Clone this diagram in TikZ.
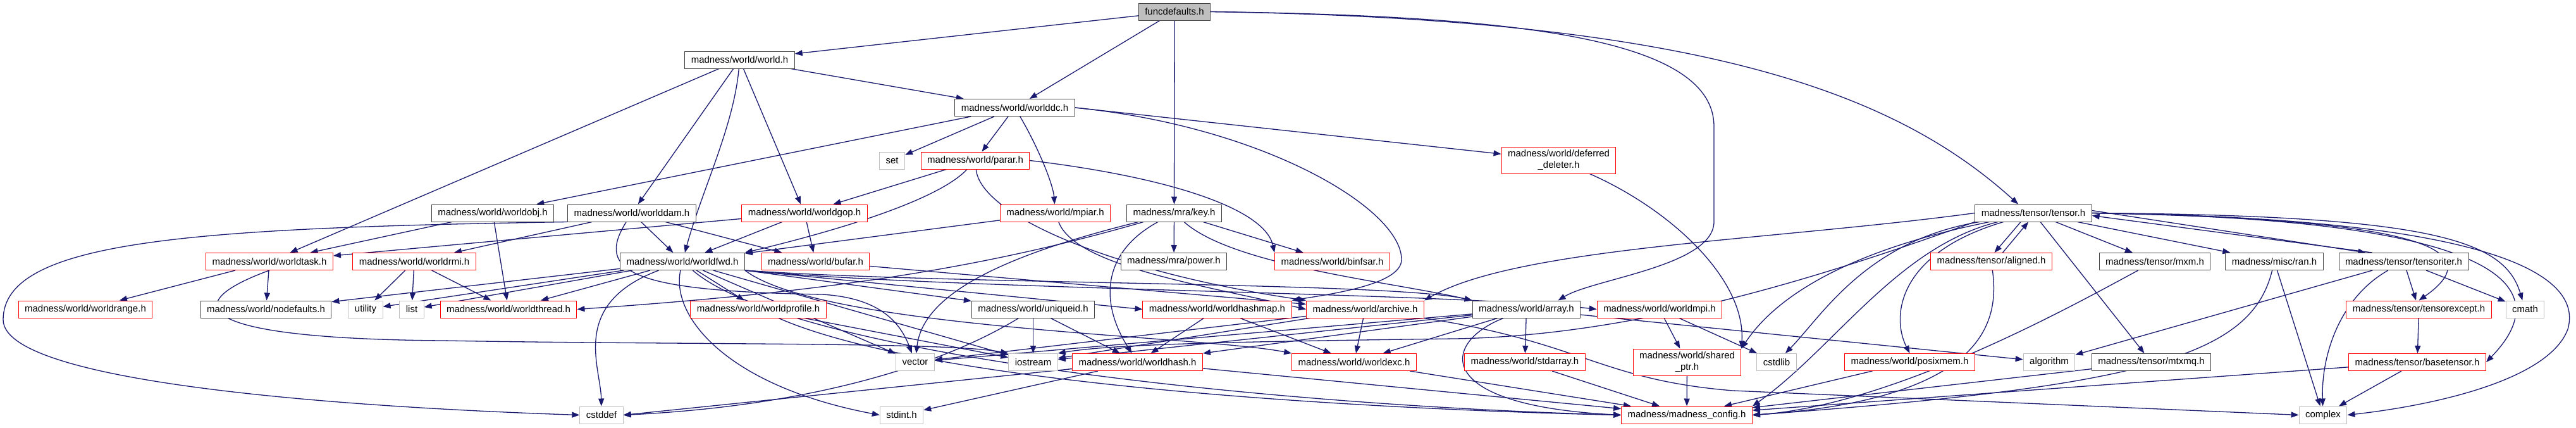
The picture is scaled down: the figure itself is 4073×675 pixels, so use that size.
\documentclass[tikz,border=0pt]{standalone}
\usepackage{fontspec}
\setmainfont{Liberation Sans}
\usetikzlibrary{arrows.meta}
\definecolor{dxedge}{HTML}{191970}
\definecolor{dxgrey}{HTML}{BFBFBF}
\pgfdeclarelayer{edges}
\pgfsetlayers{edges,main}

\begin{document}
\begin{tikzpicture}[x=1pt,y=-1pt,
  hdr/.style={rectangle,draw=black!75,fill=white,line width=1pt,minimum height=27pt,
    inner xsep=10pt,inner ysep=1pt,font=\fontsize{15}{18}\selectfont},
  hdrr/.style={hdr,draw=red},
  sys/.style={hdr,draw=dxgrey},
  two/.style={align=center,minimum height=42pt},
  e/.style={-{Triangle[length=12pt,width=9pt]},dxedge,line width=1.3pt}]
\useasboundingbox (0,0) rectangle (4073,675);
% the file itself and the madness headers
\node[hdr,fill=dxgrey] (fd) at (1857,18.5) {funcdefaults.h};
\node[hdr] (world) at (1169.5,94.5) {madness/world/world.h};
\node[hdr] (wdc) at (1604.5,170) {madness/world/worlddc.h};
\node[hdrr] (parar) at (1542,253.5) {madness/world/parar.h};
\node[hdrr,two] (deldel) at (2464.5,253) {madness/world/deferred\\\_deleter.h};
\node[hdr] (wobj) at (779,336.5) {madness/world/worldobj.h};
\node[hdr] (wdam) at (999,336.5) {madness/world/worlddam.h};
\node[hdrr] (wgop) at (1272,336.5) {madness/world/worldgop.h};
\node[hdrr] (mpiar) at (1668.5,336.5) {madness/world/mpiar.h};
\node[hdr] (key) at (1856.5,336.5) {madness/mra/key.h};
\node[hdr] (tensor) at (3215,336.5) {madness/tensor/tensor.h};
\node[hdrr] (wtask) at (426,413) {madness/world/worldtask.h};
\node[hdrr] (wrmi) at (655,413) {madness/world/worldrmi.h};
\node[hdr] (wfwd) at (1079,413) {madness/world/worldfwd.h};
\node[hdrr] (bufar) at (1289.5,413) {madness/world/bufar.h};
\node[hdr] (power) at (1856,413) {madness/mra/power.h};
\node[hdrr] (binfsar) at (2106.5,413) {madness/world/binfsar.h};
\node[hdrr] (aligned) at (3148.5,413) {madness/tensor/aligned.h};
\node[hdr] (mxm) at (3407,413) {madness/tensor/mxm.h};
\node[hdr] (ran) at (3596,413) {madness/misc/ran.h};
\node[hdr] (titer) at (3800.5,413) {madness/tensor/tensoriter.h};
\node[hdrr] (wrange) at (135,488.5) {madness/world/worldrange.h};
\node[hdr] (nodef) at (420.5,488.5) {madness/world/nodefaults.h};
\node[hdrr] (wthread) at (804,488.5) {madness/world/worldthread.h};
\node[hdrr] (wprof) at (1199,488.5) {madness/world/worldprofile.h};
\node[hdr] (uniq) at (1633.5,488.5) {madness/world/uniqueid.h};
\node[hdrr] (whmap) at (1924.5,488.5) {madness/world/worldhashmap.h};
\node[hdrr] (archive) at (2158.5,488.5) {madness/world/archive.h};
\node[hdr] (array) at (2413.5,488.5) {madness/world/array.h};
\node[hdrr] (wmpi) at (2624,488.5) {madness/world/worldmpi.h};
\node[hdrr] (texcept) at (3824.5,488.5) {madness/tensor/tensorexcept.h};
\node[hdrr] (whash) at (1798.5,572) {madness/world/worldhash.h};
\node[hdrr] (wexc) at (2141,572) {madness/world/worldexc.h};
\node[hdrr] (stdarr) at (2411,572) {madness/world/stdarray.h};
\node[hdrr,two] (shptr) at (2667.5,572) {madness/world/shared\\\_ptr.h};
\node[hdrr] (posix) at (3019.5,572) {madness/world/posixmem.h};
\node[hdr] (mtxmq) at (3401.5,572) {madness/tensor/mtxmq.h};
\node[hdrr] (btensor) at (3822,572) {madness/tensor/basetensor.h};
\node[hdrr] (config) at (2667,655.5) {madness/madness\_config.h};
% system headers
\foreach \n/\x/\y/\t in {setn/1410.5/253.5/set, utility/578/488.5/utility,
    list/651/488.5/list, cmath/3992.5/488.5/cmath, vector/1447/572/vector,
    iostream/1633.5/572/iostream, cstdlib/2809/572/cstdlib, algo/3240/572/algorithm,
    cstddef/951/655.5/cstddef, stdint/1425.5/655.5/stdint.h, complex/3673/655.5/complex}
  \node[sys] (\n) at (\x,\y) {\t};
\begin{pgfonlayer}{edges}
% funcdefaults.h
\draw[e] (fd) -- (world);
\draw[e] (fd) -- (wdc);
\draw[e] (fd) -- (key);
\draw[e] (fd.east) .. controls (2400,25) and (2710,60) .. (2710,200) -- (2710,350)
  .. controls (2710,420) and (2520,440) .. ([xshift=50]array.north);
\draw[e] (fd.east) .. controls (2700,30) and (3000,150) .. ([xshift=-24]tensor.north);
% world.h and worlddc.h
\draw[e] (world) -- (wdc);
\draw[e] (world) -- (wtask);
\draw[e] (world) -- (wdam);
\draw[e] (world) .. controls (1160,200) and (1110,300) .. (wfwd);
\draw[e] (world) -- (wgop);
\draw[e] (wdc) -- (wobj);
\draw[e] (wdc) -- (setn);
\draw[e] (wdc) -- (parar);
\draw[e] (wdc) .. controls (1640,230) and (1665,290) .. (mpiar);
\draw[e] (wdc.east) -- (deldel);
\draw[e] (wdc.east) .. controls (2000,200) and (2216,330) .. (2216,410)
  .. controls (2216,450) and (2100,465) .. (whmap.north east);
% parar.h, deferred_deleter.h
\draw[e] (parar) -- (wgop);
\draw[e] (parar) .. controls (1480,320) and (1300,370) .. (wfwd.north east);
\draw[e] (parar) .. controls (1550,340) and (1760,430) .. (archive.north west);
\draw[e] (parar.east) .. controls (1850,280) and (2000,330) .. (binfsar.north west);
\draw[e] (deldel) .. controls (2640,330) and (2760,440) .. (shptr.north east);
% row of worldobj.h ... key.h
\draw[e] (wobj) -- (wtask);
\draw[e] (wobj) -- (wthread);
\draw[e] (wdam.south west) .. controls (300,360) and (5,380) .. (5,505)
  .. controls (5,610) and (600,645) .. (cstddef.west);
\draw[e] (wdam) -- (wrmi);
\draw[e] (wdam) -- (wfwd);
\draw[e] (wdam) -- (bufar);
\draw[e] (wdam) .. controls (940,430) and (1000,460) .. (1300,465)
  .. controls (1380,470) and (1420,500) .. (vector);
\draw[e] (wgop) -- (wtask);
\draw[e] (wgop) -- (wfwd);
\draw[e] (wgop) -- (bufar);
\draw[e] (mpiar) -- (wfwd);
\draw[e] (mpiar) .. controls (1700,420) and (1900,450) .. (archive.west);
\draw[e] (key) -- (power);
\draw[e] (key) -- (binfsar);
\draw[e] (key) .. controls (1740,400) and (1740,480) .. (whash);
\draw[e] (key) .. controls (1600,400) and (1460,460) .. (vector);
\draw[e] (key) .. controls (1950,420) and (2200,445) .. (array.north west);
\draw[e] (key) .. controls (1550,425) and (1300,462) .. (wthread.east);
% worldtask.h, worldrmi.h
\draw[e] (wtask) -- (wrange);
\draw[e] (wtask) -- (nodef);
\draw[e] (wtask.south) .. controls (280,480) and (300,535) .. (700,538)
  .. controls (1100,545) and (1500,540) .. (iostream.north west);
\draw[e] (wrmi) -- (utility);
\draw[e] (wrmi) -- (list);
\draw[e] (wrmi) -- (wthread);
% worldfwd.h
\draw[e] (wfwd) -- (nodef);
\draw[e] (wfwd) -- (utility);
\draw[e] (wfwd) -- (list);
\draw[e] (wfwd) -- (wthread);
\draw[e] (wfwd) .. controls (900,480) and (950,580) .. (cstddef);
\draw[e] (wfwd) .. controls (1060,500) and (1150,610) .. (stdint.west);
\draw[e] (wfwd) -- (wprof);
\draw[e] (wfwd.south east) -- (uniq);
\draw[e] (wfwd.south east) -- (whmap.west);
\draw[e] (wfwd.south east) .. controls (1500,450) and (2200,445) .. (array.north west);
\draw[e] (wfwd.south east) .. controls (1500,458) and (2300,462) .. (wmpi.west);
\draw[e] (wfwd.south east) .. controls (1300,520) and (1900,530) .. (wexc.north west);
\draw[e] (wfwd) -- (iostream);
\draw[e] (wfwd) -- (vector);
\draw[e] (wfwd) .. controls (1250,560) and (2000,640) .. (config.west);
\draw[e] (bufar) -- (archive);
% next rows
\draw[e] (wprof) -- (iostream);
\draw[e] (wprof) .. controls (1500,620) and (2300,650) .. (config.west);
\draw[e] (uniq) -- (iostream);
\draw[e] (uniq) -- (whash);
\draw[e] (uniq) .. controls (1500,570) and (1300,640) .. (cstddef.east);
\draw[e] (whmap) -- (whash);
\draw[e] (whmap) -- (wexc);
\draw[e] (whash) -- (stdint);
\draw[e] (whash) -- (cstddef.east);
\draw[e] (whash) -- (config);
\draw[e] (archive) -- (wexc);
\draw[e] (archive) -- (iostream);
\draw[e] (archive) -- (vector);
\draw[e] (archive) .. controls (2500,540) and (2530,600) .. (2740,617) -- (complex.west);
\draw[e] (array) -- (wexc);
\draw[e] (array) -- (stdarr);
\draw[e] (array) .. controls (2280,540) and (2260,640) .. (config.west);
\draw[e] (array) -- (algo);
\draw[e] (array) -- (iostream);
\draw[e] (array) -- (vector);
\draw[e] (array) -- (whash);
\draw[e] (wmpi) -- (shptr);
\draw[e] (wmpi) -- (cstdlib);
\draw[e] (shptr) -- (config);
\draw[e] (stdarr) -- (config);
\draw[e] (wexc) -- (config);
\draw[e] (posix) -- (config);
\draw[e] (mtxmq) -- (config);
\draw[e] (btensor) -- (config);
\draw[e] (btensor) -- (complex);
\draw[e] (texcept) -- (btensor);
% tensor.h and friends
\draw[e] ([xshift=-20]tensor.south) -- ([xshift=5]aligned.north);
\draw[e] ([xshift=18]aligned.north) -- ([xshift=-8]tensor.south);
\draw[e] (aligned) .. controls (3160,500) and (3150,630) .. (config.east);
\draw[e] (tensor) -- (mxm);
\draw[e] (tensor) -- (ran);
\draw[e] ([yshift=4]tensor.east) -- ([xshift=-60]titer.north);
\draw[e] ([xshift=-50]titer.north) -- ([yshift=-4]tensor.east);
\draw[e] (tensor) -- (mtxmq);
\draw[e] (tensor.west) .. controls (2800,380) and (2400,390) .. (archive.north east);
\draw[e] (tensor.south west) .. controls (2900,430) and (2600,530) .. (2300,535)
  .. controls (1900,540) and (1750,545) .. (iostream.north east);
\draw[e] (tensor) .. controls (2950,380) and (2880,500) .. (cstdlib);
\draw[e] (tensor) .. controls (3000,400) and (2990,500) .. (posix.north);
\draw[e] (tensor) .. controls (2900,400) and (2800,480) .. (shptr.north east);
\draw[e] (tensor) .. controls (3000,390) and (2900,550) .. (config.north east);
\draw[e] (tensor.east) .. controls (3750,345) and (3960,380) .. (texcept.north);
\draw[e] (tensor.east) .. controls (3850,340) and (3960,380) .. (cmath);
\draw[e] (tensor.east) .. controls (3950,345) and (4050,450) .. (btensor.east);
\draw[e] (tensor.east) .. controls (4000,345) and (4080,450) .. (4060,520)
  .. controls (4030,600) and (3850,640) .. (complex.east);
\draw[e] (titer) -- (texcept);
\draw[e] (titer) -- (cmath);
\draw[e] (titer) .. controls (3700,470) and (3670,560) .. (complex);
\draw[e] (titer) -- (algo);
\draw[e] (ran) .. controls (3560,560) and (3400,610) .. (config.east);
\draw[e] (ran) -- (complex);
\draw[e] (mxm) .. controls (3300,470) and (3000,640) .. (config.east);
\end{pgfonlayer}
\end{tikzpicture}
\end{document}
